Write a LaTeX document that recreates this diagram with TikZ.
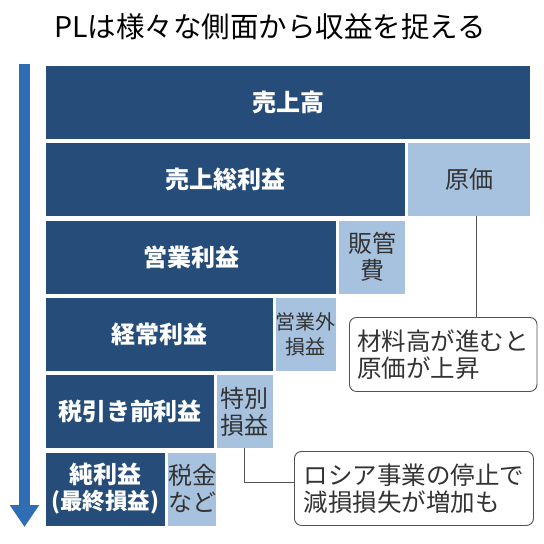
\documentclass[tikz,border=0pt]{standalone}
\usepackage{fontspec}
\setmainfont{Noto Sans CJK JP}
\usetikzlibrary{arrows.meta}
\definecolor{kon}{HTML}{264D7A}
\definecolor{mizu}{HTML}{A7C2DF}
\definecolor{yajirushi}{HTML}{2F6DB5}
\definecolor{sumi}{HTML}{333333}
\tikzset{
  rieki/.style={fill=kon,text=white,font=\bfseries\fontsize{24}{27}\selectfont,
    anchor=north west,inner sep=0pt,outer sep=0pt,minimum height=73pt,align=center},
  hiyou/.style={fill=mizu,text=sumi,font=\fontsize{24}{27}\selectfont,
    anchor=north west,inner sep=0pt,outer sep=0pt,minimum height=73pt,align=center},
  fukidashi/.style={draw=sumi!85,line width=0.9pt,rounded corners=7pt,fill=white,text=sumi,
    font=\fontsize{24.5}{27.5}\selectfont,anchor=north west,inner xsep=8pt,
    minimum height=74pt,align=left}
}

\begin{document}
\begin{tikzpicture}[x=1pt,y=-1pt]
  \useasboundingbox (0,0) rectangle (544,544);
  % タイトル
  \node[text=black,font=\fontsize{28.5}{31}\selectfont] (title) at (270,27) {PLは様々な側面から収益を捉える};
  % 流れの矢印
  \coordinate (ue) at (24.5,64);
  \coordinate (shita) at (24.5,527);
  \draw[yajirushi,line width=11pt,-{Triangle[width=28pt,length=22pt]}] (ue) -- (shita);
  % 利益の段
  \node[rieki,minimum width=484pt] (uriage) at (46,66) {売上高};
  \node[rieki,minimum width=359pt] (arari) at (46,143.3) {売上総利益};
  \node[hiyou,minimum width=122pt] (genka) at (408,143.3) {原価};
  \node[rieki,minimum width=290pt] (eigyo) at (46,220.6) {営業利益};
  \node[hiyou,minimum width=66pt] (hankan) at (339,220.6) {販管\\費};
  \node[rieki,minimum width=226.5pt] (keijo) at (46,297.9) {経常利益};
  \node[hiyou,minimum width=60.5pt,font=\fontsize{20}{25}\selectfont] (eigyogai) at (275.5,297.9) {営業外\\損益};
  \node[rieki,minimum width=168pt] (zeimae) at (46,375.2) {税引き前利益};
  \node[hiyou,minimum width=55.5pt] (tokubetsu) at (217,375.2) {特別\\損益};
  \node[rieki,minimum width=119pt,font=\bfseries\fontsize{24}{26}\selectfont] (junrieki) at (46,452.5)
    {純利益\\{\fontsize{22.5}{25}\selectfont(最終損益)}};
  \node[hiyou,minimum width=46pt] (zeikin) at (168,452.5) {税金\\など};
  % 吹き出し
  \node[fukidashi,minimum width=184pt] (fuki1) at (349,317) {材料高が進むと\\原価が上昇};
  \node[fukidashi,minimum width=239pt] (fuki2) at (294,451) {ロシア事業の停止で\\減損損失が増加も};
  \draw[sumi!85,line width=0.9pt] ([xshift=7pt]genka.south) -- ([xshift=7pt]genka.south |- fuki1.north);
  \draw[sumi!85,line width=0.9pt] (tokubetsu.south) |- ([yshift=6pt]fuki2.west);
\end{tikzpicture}
\end{document}
